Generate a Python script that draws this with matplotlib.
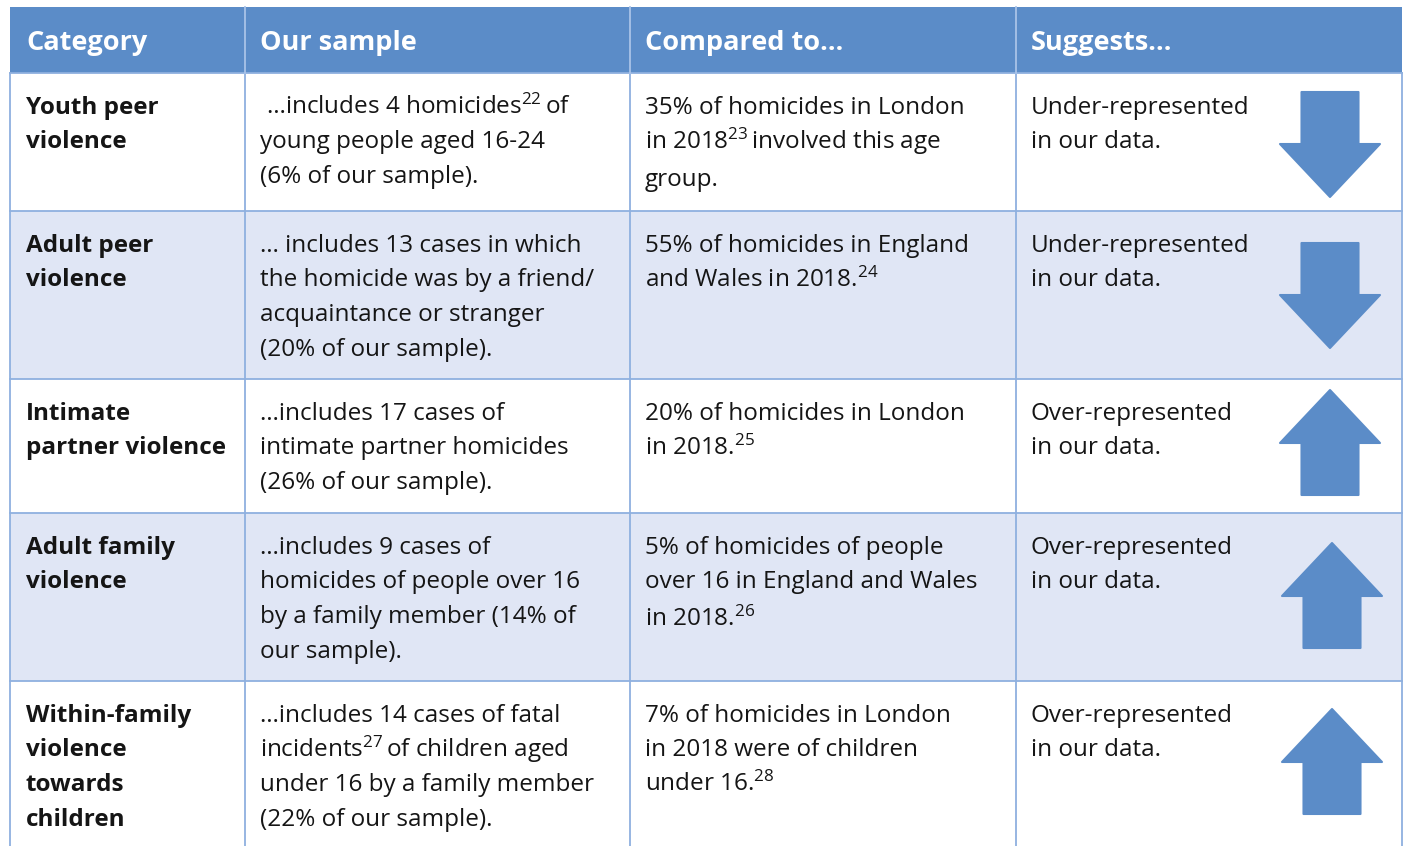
import matplotlib.pyplot as plt
from matplotlib.patches import Rectangle, Polygon

plt.rcParams['font.family'] = ['Open Sans', 'DejaVu Sans']
plt.rcParams['mathtext.fontset'] = 'custom'
plt.rcParams['mathtext.rm'] = 'Open Sans'
plt.rcParams['mathtext.it'] = 'Open Sans'
plt.rcParams['mathtext.bf'] = 'Open Sans:bold'

headers = ["Category", "Our sample", "Compared to…", "Suggests…"]

categories = [
    ["Youth peer", "violence"],
    ["Adult peer", "violence"],
    ["Intimate", "partner violence"],
    ["Adult family", "violence"],
    ["Within-family", "violence", "towards", "children"],
]

our_sample = [
    [" …includes 4 homicides$^{22}\\,$of", "young people aged 16-24", "(6% of our sample)."],
    ["… includes 13 cases in which", "the homicide was by a friend/",
     "acquaintance or stranger", "(20% of our sample)."],
    ["…includes 17 cases of", "intimate partner homicides", "(26% of our sample)."],
    ["…includes 9 cases of", "homicides of people over 16",
     "by a family member (14% of", "our sample)."],
    ["…includes 14 cases of fatal", "incidents$^{27}\\,$of children aged",
     "under 16 by a family member", "(22% of our sample)."],
]

compared_to = [
    ["35% of homicides in London", "in 2018$^{23}\\,$involved this age", "group."],
    ["55% of homicides in England", "and Wales in 2018.$^{24}$"],
    ["20% of homicides in London", "in 2018.$^{25}$"],
    ["5% of homicides of people", "over 16 in England and Wales", "in 2018.$^{26}$"],
    ["7% of homicides in London", "in 2018 were of children", "under 16.$^{28}$"],
]

suggests = [
    ["Under-represented", "in our data."],
    ["Under-represented", "in our data."],
    ["Over-represented", "in our data."],
    ["Over-represented", "in our data."],
    ["Over-represented", "in our data."],
]

direction = ["down", "down", "up", "up", "up"]

# layout (pixels)
col_edges = [10, 245, 630, 1016, 1402]
row_edges = [7, 73, 211, 379, 513, 681, 846]
text_x = [26, 260, 645, 1031]
arrow_top = [92, 243, 390, 543, 709]
arrow_x = [1330, 1330, 1330, 1332, 1332]

head_color = '#5b8cc8'
alt_color = '#e0e6f5'
grid_color = '#8fb0df'

fig = plt.figure(figsize=(14.05, 8.46), dpi=100)
ax = fig.add_axes([0, 0, 1, 1])
ax.set_xlim(0, 1405)
ax.set_ylim(846, 0)
ax.axis('off')

# header
ax.add_patch(Rectangle((col_edges[0], row_edges[0]), col_edges[-1] - col_edges[0],
                       row_edges[1] - row_edges[0], color=head_color, lw=0))
for j, h in enumerate(headers):
    ax.text(text_x[j], (row_edges[0] + row_edges[1]) / 2 + 3, h, color='white',
            fontsize=19.5, fontweight='bold', va='center', ha='left')

# body rows
for i in range(len(categories)):
    top = row_edges[i + 1]
    bottom = row_edges[i + 2]
    if i % 2 == 1:
        ax.add_patch(Rectangle((col_edges[0], top), col_edges[-1] - col_edges[0],
                               bottom - top, color=alt_color, lw=0))
    cols = [categories[i], our_sample[i], compared_to[i], suggests[i]]
    for j, lines in enumerate(cols):
        y = top + 41
        for k, line in enumerate(lines):
            ax.text(text_x[j], y, line, fontsize=17.5, va='baseline', ha='left',
                    color='#151515', fontweight='bold' if j == 0 else 'normal')
            if j == 2 and i in (0, 3) and k == 1:
                y += 37
            else:
                y += 34.5

    # arrow
    cx = arrow_x[i]
    t = arrow_top[i]
    hw, sw, total, head = 50, 28.5, 105, 53
    if direction[i] == 'down':
        pts = [(cx - sw, t), (cx + sw, t), (cx + sw, t + total - head),
               (cx + hw, t + total - head), (cx, t + total),
               (cx - hw, t + total - head), (cx - sw, t + total - head)]
    else:
        pts = [(cx - sw, t + total), (cx + sw, t + total), (cx + sw, t + head),
               (cx + hw, t + head), (cx, t), (cx - hw, t + head), (cx - sw, t + head)]
    ax.add_patch(Polygon(pts, closed=True, facecolor=head_color,
                         edgecolor=head_color, lw=1.5, joinstyle='round'))

# grid lines
for y in row_edges[1:-1]:
    ax.plot([col_edges[0], col_edges[-1]], [y, y], color=grid_color, lw=1.3)
for x in col_edges:
    ax.plot([x, x], [row_edges[1], row_edges[-1]], color=grid_color, lw=1.3)
for x in col_edges[1:-1]:
    ax.plot([x, x], [row_edges[0], row_edges[1]], color='#a9c3e8', lw=1.3)

fig.savefig('out.png', dpi=100)
